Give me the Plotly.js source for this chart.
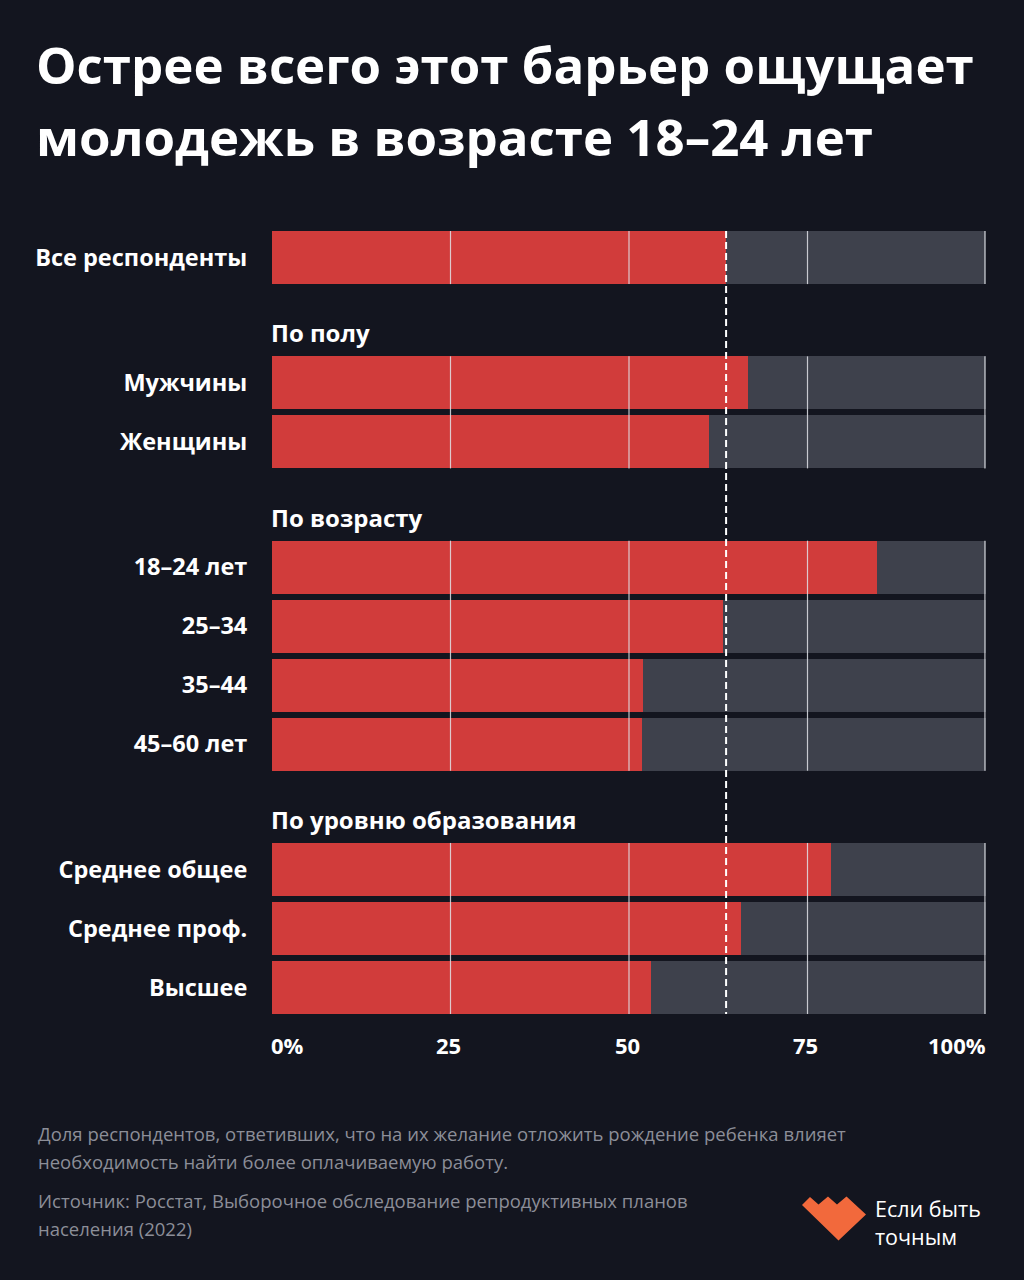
<!DOCTYPE html>
<html>
<head>
<meta charset="utf-8">
<script src="https://cdn.plot.ly/plotly-3.0.1.min.js"></script>
<style>
  html, body { margin: 0; padding: 0; background: #13151f; }
  #chart { width: 1024px; height: 1280px; }
</style>
</head>
<body>
<div id="chart"></div>
<script>
// ---- Data ----
const categories = ['Все респонденты', 'Мужчины', 'Женщины', '18–24 лет', '25–34', '35–44', '45–60 лет', 'Среднее общее', 'Среднее проф.', 'Высшее'];
const groupIndex = [0, 1, 1, 2, 2, 2, 2, 3, 3, 3];
const groupHeaders = ['', 'По полу', 'По возрасту', 'По уровню образования'];
const shares = [63.6, 66.6, 61.2, 84.8, 63.1, 52.0, 51.8, 78.3, 65.7, 53.1];
const referenceShare = shares[0];
const xTickVals = [0, 25, 50, 75, 100];
const xTickText = ['0%', '25', '50', '75', '100%'];
const titleLines = ['Острее всего этот барьер ощущает', 'молодежь в возрасте 18–24 лет'];
const noteLines = ['Доля респондентов, ответивших, что на их желание отложить рождение ребенка влияет', 'необходимость найти более оплачиваемую работу.'];
const sourceLines = ['Источник: Росстат, Выборочное обследование репродуктивных планов', 'населения (2022)'];
const logoLines = ['Если быть', 'точным'];

// ---- Layout constants ----
const W = 1024, H = 1280;
const M = { l: 272, r: 38, t: 231, b: 266 };
const BAR_W = 0.9, GROUP_GAP = 2.125, HEADER_OFFSET = 0.85;
const BG = '#13151f', RED = '#d13c3b', GREY = '#3e414c', FONT = '"Open Sans", Lato, sans-serif';

// y positions derived from group structure
const ypos = [];
let p = 0;
categories.forEach((c, i) => {
  if (i > 0) p += (groupIndex[i] !== groupIndex[i - 1]) ? GROUP_GAP : 1;
  ypos.push(p);
});
const yMin = ypos[0] - BAR_W / 2, yMax = ypos[ypos.length - 1] + BAR_W / 2;

const plotW = W - M.l - M.r, plotH = H - M.t - M.b;
const px2x = px => (px - M.l) / plotW;
const py2y = py => (H - M.b - py) / plotH;

const traces = [
  { type: 'bar', orientation: 'h', y: ypos, x: shares, width: BAR_W,
    marker: { color: RED, line: { width: 0 } }, hoverinfo: 'skip', showlegend: false },
  { type: 'bar', orientation: 'h', y: ypos, x: shares.map(v => 100 - v), width: BAR_W,
    marker: { color: GREY, line: { width: 0 } }, hoverinfo: 'skip', showlegend: false }
];

const shapes = [];
// gridlines over bars, per group
const groups = [...new Set(groupIndex)];
groups.forEach(g => {
  const ys = ypos.filter((y, i) => groupIndex[i] === g);
  const top = Math.min(...ys) - BAR_W / 2, bot = Math.max(...ys) + BAR_W / 2;
  xTickVals.filter(v => v > 0).forEach(v => {
    shapes.push({ type: 'line', xref: 'x', yref: 'y', x0: v === 100 ? 99.85 : v, x1: v === 100 ? 99.85 : v,
      y0: top, y1: bot, layer: 'above', line: { color: 'rgba(225,226,232,0.85)', width: 1.2 } });
  });
});
// dashed reference line
shapes.push({ type: 'line', xref: 'x', yref: 'y', x0: referenceShare, x1: referenceShare, y0: yMin, y1: yMax,
  layer: 'above', line: { color: '#ffffff', width: 2, dash: '7px,4px' } });

// logo
const logoPts = [[802, 1205], [810, 1197], [818.5, 1204.5], [828, 1196.5], [837, 1204.5], [846.5, 1196.5], [866, 1214.5], [838.5, 1240.5]];
shapes.push({ type: 'path', xref: 'paper', yref: 'paper', layer: 'above',
  path: 'M' + logoPts.map(pt => px2x(pt[0]).toFixed(5) + ',' + py2y(pt[1]).toFixed(5)).join(' L') + ' Z',
  fillcolor: '#f2693c', line: { width: 0 } });

const annotations = [];
// group headers
groupHeaders.forEach((h, g) => {
  if (!h) return;
  const first = ypos[groupIndex.indexOf(g)];
  annotations.push({ text: h, xref: 'x', yref: 'y', x: 0, xshift: -3, y: first - HEADER_OFFSET, xanchor: 'left', yanchor: 'middle',
    showarrow: false, font: { family: FONT, size: 24, weight: 700, color: '#ffffff' } });
});
// x tick labels
xTickVals.forEach((v, i) => {
  annotations.push({ text: xTickText[i], xref: 'x', yref: 'paper', x: v, y: 0, yshift: -31,
    xanchor: i === 0 ? 'left' : (i === xTickVals.length - 1 ? 'right' : 'center'),
    xshift: i === 0 ? -3 : (i === xTickVals.length - 1 ? 2 : -2), yanchor: 'middle',
    showarrow: false, font: { family: FONT, size: 22, weight: 700, color: '#ffffff' } });
});
// footnotes
const multi = (lines, size) => lines.map(l => '<span style="font-size:' + size + 'px">' + l + '</span>').join('<br>');
annotations.push({ text: multi(noteLines, 18.5), xref: 'paper', yref: 'paper', x: px2x(36), y: py2y(1119), xanchor: 'left', yanchor: 'top',
  align: 'left', showarrow: false, font: { family: FONT, size: 21.5, color: '#8c8e98' } });
annotations.push({ text: multi(sourceLines, 18.5), xref: 'paper', yref: 'paper', x: px2x(36), y: py2y(1186), xanchor: 'left', yanchor: 'top',
  align: 'left', showarrow: false, font: { family: FONT, size: 21.5, color: '#8c8e98' } });
annotations.push({ text: logoLines.join('<br>'), xref: 'paper', yref: 'paper', x: px2x(873), y: py2y(1192), xanchor: 'left', yanchor: 'top',
  align: 'left', showarrow: false, font: { family: FONT, size: 21.5, color: '#ffffff' } });

const layout = {
  width: W, height: H,
  paper_bgcolor: BG, plot_bgcolor: BG,
  margin: M,
  title: { text: multi(titleLines, 51), xref: 'container', yref: 'container', x: 36 / W, y: 1 - 84 / H,
    xanchor: 'left', yanchor: 'top', font: { family: FONT, size: 55.5, weight: 700, color: '#ffffff' } },
  barmode: 'stack', bargap: 0,
  xaxis: { range: [0, 100], showgrid: false, zeroline: false, showticklabels: false, ticks: '', fixedrange: true },
  yaxis: { range: [yMax, yMin], tickvals: ypos, ticktext: categories, showgrid: false, zeroline: false,
    ticks: 'outside', ticklen: 19, tickcolor: 'rgba(0,0,0,0)', fixedrange: true,
    tickfont: { family: FONT, size: 23.5, weight: 700, color: '#ffffff' } },
  shapes: shapes,
  annotations: annotations,
  showlegend: false
};

Plotly.newPlot('chart', traces, layout, { displayModeBar: false, staticPlot: true });
</script>
</body>
</html>
